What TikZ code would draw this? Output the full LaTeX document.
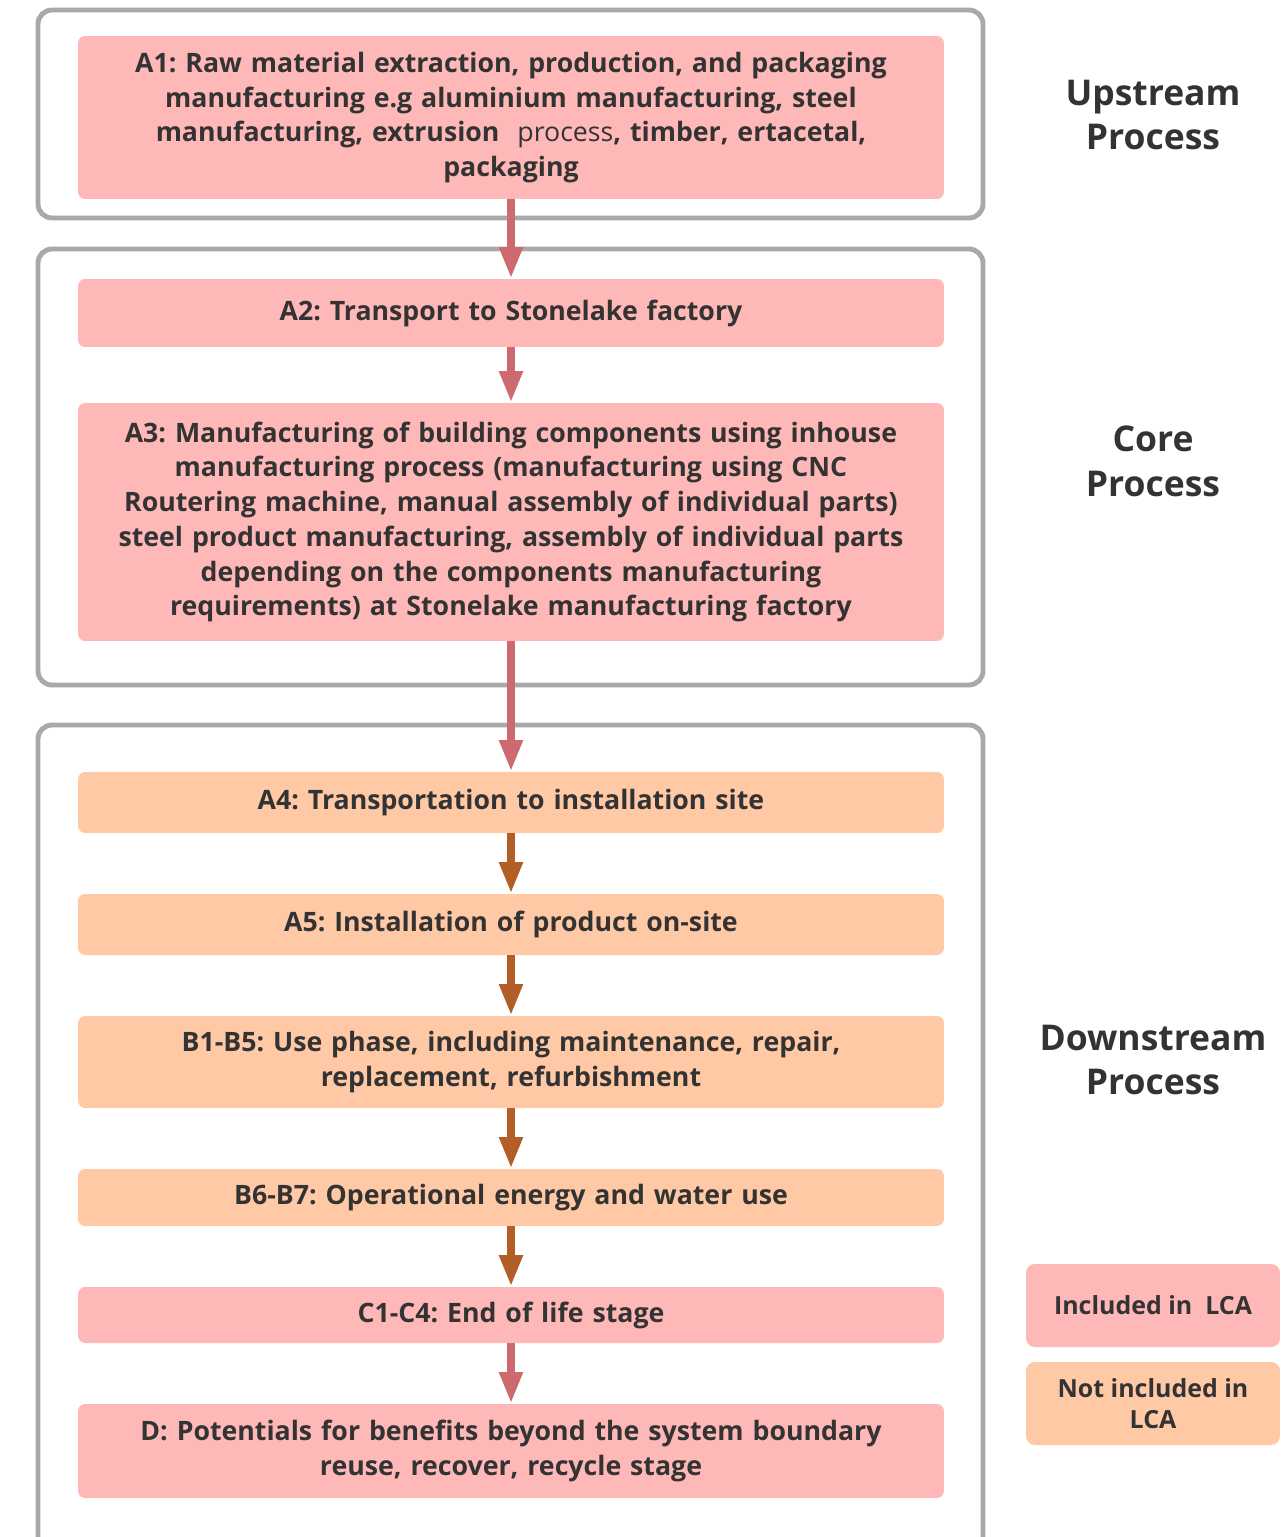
\documentclass[tikz,border=0pt]{standalone}
\usepackage{fontspec}
\setmainfont{Open Sans}
\usetikzlibrary{arrows.meta,positioning}
\definecolor{inclfill}{HTML}{FFB8B8}
\definecolor{exclfill}{HTML}{FFC9A6}
\definecolor{framegray}{HTML}{A9A9A9}
\definecolor{inclarrow}{HTML}{CC6A70}
\definecolor{exclarrow}{HTML}{B35E27}
\definecolor{txt}{HTML}{333333}
\frenchspacing
\tikzset{
  stage/.style={fill=inclfill, rounded corners=4pt, text width=16.9cm,
    minimum width=17.32cm, align=center, inner sep=2pt, text=txt,
    font=\fontsize{15.2}{19.8}\selectfont\bfseries},
  incl/.style={stage, fill=inclfill},
  excl/.style={stage, fill=exclfill},
  boundary/.style={draw=framegray, line width=2.8pt, rounded corners=8pt},
  phase/.style={align=center, text=txt,
    font=\fontsize{20.2}{25.5}\selectfont\bfseries},
  legend/.style={rounded corners=5pt, minimum width=5.08cm, minimum height=1.66cm,
    align=center, text=txt, font=\fontsize{14.2}{17.5}\selectfont\bfseries},
  flow/.style={line width=5pt, -{Triangle[width=12.5pt,length=18pt]}},
  inflow/.style={flow, draw=inclarrow, fill=inclarrow},
  exflow/.style={flow, draw=exclarrow, fill=exclarrow}
}
\begin{document}
\begin{tikzpicture}[x=0.02cm, y=-0.02cm]
  \useasboundingbox[fill=white] (0,0) rectangle (1287,1537);
  % system boundaries
  \draw[boundary] (38,10) rectangle (983,218);
  \draw[boundary] (38,249) rectangle (983,685);
  \draw[boundary] (38,725) rectangle (983,1560);
  % stages
  \node[incl, minimum height=3.26cm] (a1) at (511,117.5)
    {A1: Raw material extraction, production, and packaging\\
     manufacturing e.g aluminium manufacturing, steel\\
     manufacturing, extrusion \ {\mdseries process}, timber, ertacetal,\\
     packaging};
  \node[incl, minimum height=1.36cm] (a2) at (511,313)
    {A2: Transport to Stonelake factory};
  \node[incl, minimum height=4.76cm] (a3) at (511,522)
    {A3: Manufacturing of building components using inhouse\\
     manufacturing process (manufacturing using CNC\\
     Routering machine, manual assembly of individual parts)\\
     steel product manufacturing, assembly of individual parts\\
     depending on the components manufacturing\\
     requirements) at Stonelake manufacturing factory};
  \node[excl, minimum height=1.22cm] (a4) at (511,802.5)
    {A4: Transportation to installation site};
  \node[excl, minimum height=1.22cm] (a5) at (511,924.5)
    {A5: Installation of product on-site};
  \node[excl, minimum height=1.84cm] (b1) at (511,1062)
    {B1-B5: Use phase, including maintenance, repair,\\
     replacement, refurbishment};
  \node[excl, minimum height=1.14cm] (b6) at (511,1197.5)
    {B6-B7: Operational energy and water use};
  \node[incl, minimum height=1.12cm] (c1) at (511,1315)
    {C1-C4: End of life stage};
  \node[incl, minimum height=1.88cm] (d) at (511,1451)
    {D: Potentials for benefits beyond the system boundary\\
     reuse, recover, recycle stage};
  % flows
  \draw[inflow] (a1) -- (a2);
  \draw[inflow] (a2) -- (a3);
  \draw[inflow] (a3) -- (a4);
  \draw[exflow] (a4) -- (a5);
  \draw[exflow] (a5) -- (b1);
  \draw[exflow] (b1) -- (b6);
  \draw[exflow] (b6) -- (c1);
  \draw[inflow] (c1) -- (d);
  % phase labels
  \node[phase] (upstream) at (1153,115) {Upstream\\Process};
  \node[phase] (core) at (1153,461) {Core\\Process};
  \node[phase] (downstream) at (1153,1060) {Downstream\\Process};
  % legend
  \node[legend, fill=inclfill] (key-in) at (1153,1305.5) {Included in \ LCA};
  \node[legend, fill=exclfill] (key-out) at (1153,1403.5) {Not included in\\LCA};
\end{tikzpicture}
\end{document}
